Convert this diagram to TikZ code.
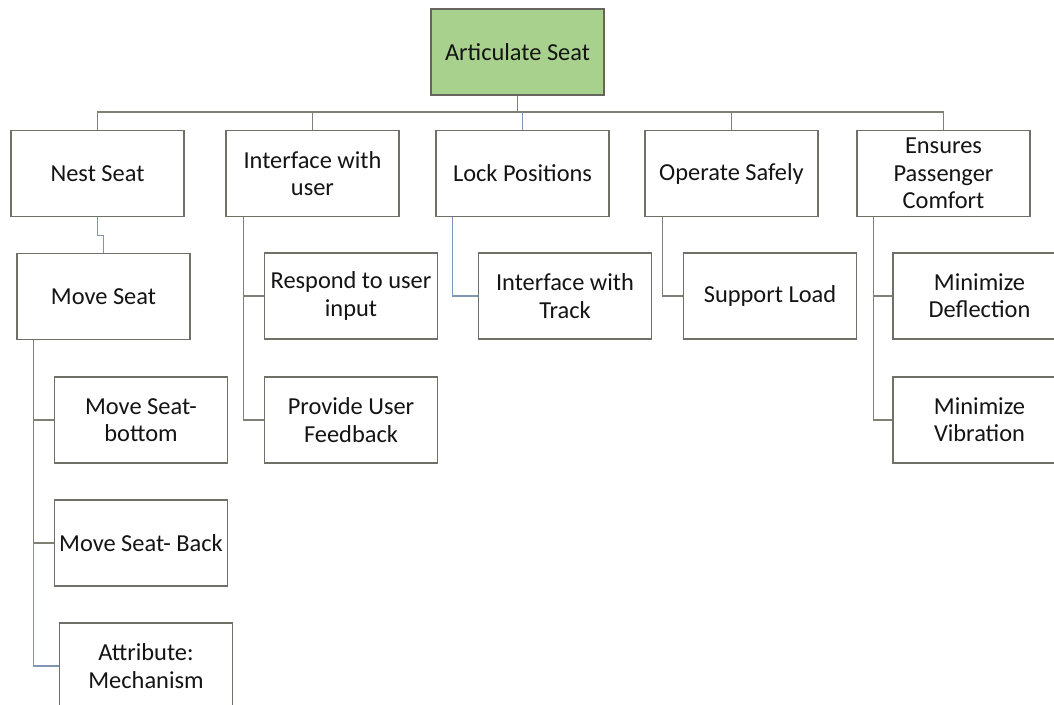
\documentclass[tikz,border=0pt]{standalone}
\usepackage{fontspec}
\setmainfont{Carlito}
\definecolor{boxline}{RGB}{112,112,104}
\definecolor{linkgray}{RGB}{128,128,116}
\definecolor{linkblue}{RGB}{128,150,180}
\definecolor{rootgreen}{RGB}{169,209,142}
\definecolor{textdark}{RGB}{20,20,20}
\tikzset{
  fbox/.style={draw=boxline, line width=0.9pt, fill=white, minimum width=129.75pt, minimum height=64.5pt,
    align=center, inner sep=1pt, text=textdark, font=\fontsize{18.3}{20.5}\selectfont},
  rootbox/.style={fbox, fill=rootgreen, draw=boxline!90!black},
  link/.style={draw=linkgray, line width=0.9pt},
  bluelink/.style={draw=linkblue, line width=0.9pt}
}
\begin{document}
\begin{tikzpicture}[x=0.75pt,y=-0.75pt]
		\clip (0,0) rectangle (1054,704);
		\fill[white] (0,0) rectangle (1054,704);

		% Top function
		\node[rootbox] (art) at (517.5,52) {Articulate Seat};

		% Second level
		\node[fbox] (nest) at (97.5,173.5) {Nest Seat};
		\node[fbox] (iuser) at (312.5,173.5) {Interface with\\user};
		\node[fbox] (lock) at (522.5,173.5) {Lock Positions};
		\node[fbox] (opsafe) at (731.5,173.5) {Operate Safely};
		\node[fbox] (comfort) at (943.5,173.5) {Ensures\\Passenger\\Comfort};

		% Third level
		\node[fbox] (move) at (103.5,296.5) {Move Seat};
		\node[fbox] (respond) at (351,296) {Respond to user\\input};
		\node[fbox] (feedback) at (351,420) {Provide User\\Feedback};
		\node[fbox] (track) at (565,296) {Interface with\\Track};
		\node[fbox] (load) at (770,296) {Support Load};
		\node[fbox] (deflect) at (979.5,296) {Minimize\\Deflection};
		\node[fbox] (vibr) at (979.5,420) {Minimize\\Vibration};

		% Fourth level
		\node[fbox] (bottom) at (141,420) {Move Seat-\\bottom};
		\node[fbox] (back) at (141,543) {Move Seat- Back};
		\node[fbox] (attr) at (146,666) {Attribute:\\Mechanism};

		% Bus under the top box
		\coordinate (bus) at (517.5,112);
		\draw[link] (art.south) -- (bus);
		\draw[link] (bus) -| (nest.north);
		\draw[link] (bus) -| (iuser.north);
		\draw[link] (bus) -| (opsafe.north);
		\draw[link] (bus) -| (comfort.north);
		\draw[bluelink] (lock.north) -- (lock.north |- bus);

		% Branches
		\coordinate (mvspine) at ([xshift=12.75pt]move.south west);
		\draw[bluelink] (nest.south) -- ++(0,18) -| (move.north);
		\draw[link] (mvspine) |- (bottom.west);
		\draw[link] (mvspine) |- (back.west);
		\draw[bluelink] (mvspine |- back.west) |- (attr.west);
		\draw[link] ([xshift=13.5pt]iuser.south west) |- (respond.west);
		\draw[link] ([xshift=13.5pt]iuser.south west) |- (feedback.west);
		\draw[bluelink] ([xshift=12.75pt]lock.south west) |- (track.west);
		\draw[link] ([xshift=13.5pt]opsafe.south west) |- (load.west);
		\draw[link] ([xshift=12.75pt]comfort.south west) |- (deflect.west);
		\draw[link] ([xshift=12.75pt]comfort.south west) |- (vibr.west);
	\end{tikzpicture}
\end{document}
